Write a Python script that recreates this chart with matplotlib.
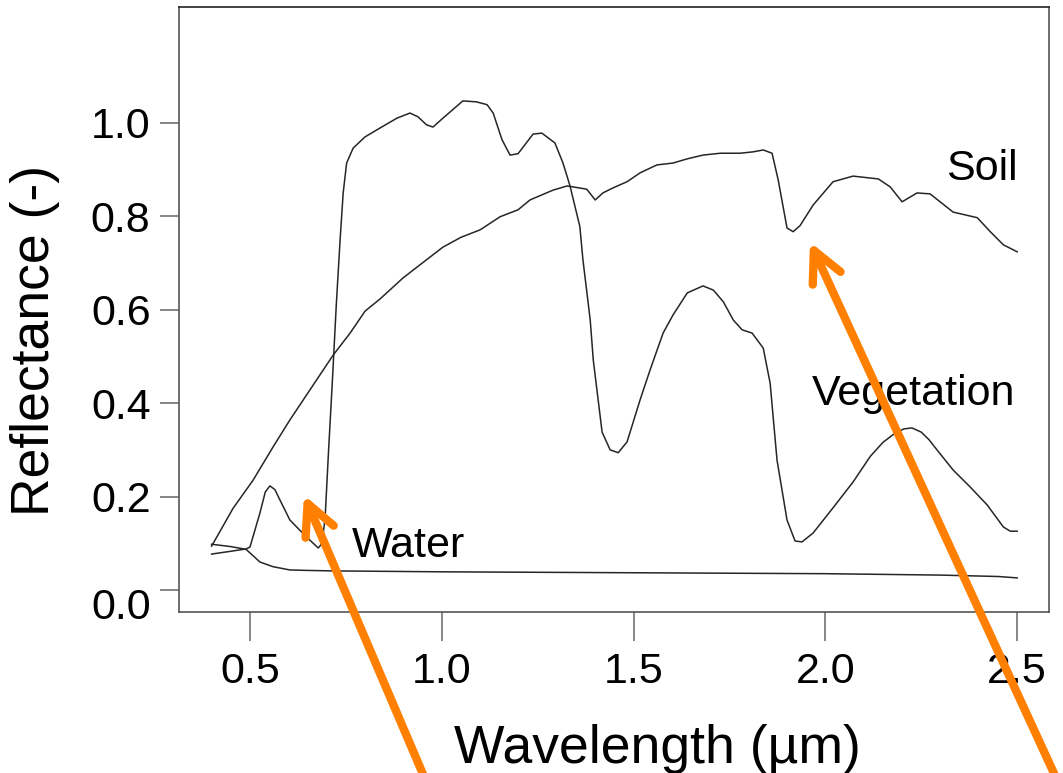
import matplotlib
matplotlib.use("Agg")
import matplotlib.pyplot as plt
import matplotlib.transforms as mtransforms

plt.rcParams['font.family'] = ['Liberation Sans', 'DejaVu Sans']

# spectral reflectance curves (wavelength in um, reflectance 0-1)
soil_wl = [0.40, 0.456, 0.508, 0.56, 0.604, 0.656, 0.717, 0.761, 0.80, 0.839,
           0.899, 0.943, 1.003, 1.05, 1.10, 1.152, 1.199, 1.23, 1.29, 1.327,
           1.378, 1.40, 1.42, 1.447, 1.483, 1.517, 1.561, 1.603, 1.64, 1.681,
           1.726, 1.778, 1.812, 1.838, 1.861, 1.877, 1.90, 1.916, 1.934, 1.968,
           2.02, 2.072, 2.138, 2.169, 2.20, 2.239, 2.273, 2.333, 2.396, 2.43,
           2.464, 2.50]
soil_refl = [0.094, 0.175, 0.235, 0.306, 0.364, 0.428, 0.503, 0.55, 0.597, 0.623,
             0.668, 0.696, 0.734, 0.755, 0.771, 0.799, 0.814, 0.835, 0.856, 0.865,
             0.858, 0.835, 0.85, 0.861, 0.874, 0.893, 0.91, 0.914, 0.923, 0.931,
             0.935, 0.935, 0.938, 0.942, 0.935, 0.878, 0.775, 0.767, 0.78, 0.824,
             0.874, 0.886, 0.88, 0.863, 0.831, 0.85, 0.848, 0.809, 0.797, 0.767,
             0.739, 0.724]

veg_wl = [0.40, 0.45, 0.49, 0.50, 0.526, 0.54, 0.552, 0.565, 0.578, 0.604,
          0.63, 0.656, 0.678, 0.688, 0.696, 0.705, 0.715, 0.725, 0.735, 0.743,
          0.752, 0.769, 0.80, 0.839, 0.883, 0.917, 0.938, 0.96, 0.977, 1.003,
          1.055, 1.09, 1.118, 1.134, 1.157, 1.178, 1.199, 1.238, 1.261, 1.295,
          1.316, 1.334, 1.36, 1.368, 1.387, 1.395, 1.418, 1.439, 1.46, 1.483,
          1.517, 1.543, 1.577, 1.603, 1.64, 1.681, 1.708, 1.734, 1.76, 1.783,
          1.809, 1.838, 1.856, 1.874, 1.90, 1.921, 1.939, 1.968, 2.02, 2.072,
          2.117, 2.15, 2.182, 2.205, 2.226, 2.25, 2.27, 2.291, 2.333, 2.377,
          2.422, 2.464, 2.482, 2.50]
veg_refl = [0.077, 0.083, 0.088, 0.092, 0.165, 0.21, 0.223, 0.215, 0.193, 0.15,
            0.128, 0.107, 0.09, 0.10, 0.156, 0.30, 0.45, 0.61, 0.75, 0.85,
            0.914, 0.946, 0.97, 0.989, 1.01, 1.021, 1.013, 0.996, 0.991, 1.01,
            1.047, 1.045, 1.039, 1.021, 0.964, 0.931, 0.934, 0.976, 0.978, 0.957,
            0.914, 0.866, 0.778, 0.707, 0.578, 0.492, 0.338, 0.30, 0.294, 0.317,
            0.407, 0.471, 0.55, 0.589, 0.636, 0.651, 0.642, 0.617, 0.578, 0.557,
            0.55, 0.518, 0.443, 0.278, 0.15, 0.105, 0.103, 0.122, 0.176, 0.231,
            0.286, 0.316, 0.336, 0.345, 0.347, 0.338, 0.322, 0.30, 0.257, 0.221,
            0.182, 0.135, 0.126, 0.126]

water_wl = [0.40, 0.45, 0.49, 0.526, 0.56, 0.604, 0.65, 0.716, 1.0, 1.5,
            2.0, 2.3, 2.45, 2.50]
water_refl = [0.098, 0.093, 0.087, 0.06, 0.05, 0.043, 0.042, 0.041, 0.039, 0.037,
              0.035, 0.032, 0.029, 0.026]

x_ticks = [0.5, 1.0, 1.5, 2.0, 2.5]
y_ticks = [0.0, 0.2, 0.4, 0.6, 0.8, 1.0]

W, H = 1063, 773
fig = plt.figure(figsize=(W / 100, H / 100), dpi=100)
ax = fig.add_axes([179 / W, 1 - 612 / H, (1049 - 179) / W, (612 - 7) / H])

line_kw = dict(color='#262626', lw=1.1, solid_joinstyle='round')
ax.plot(soil_wl, soil_refl, **line_kw)
ax.plot(veg_wl, veg_refl, **line_kw)
ax.plot(water_wl, water_refl, **line_kw)

ax.set_xlim(0.315, 2.583)
ax.set_ylim(-0.047, 1.248)

for side in ['top', 'right', 'left', 'bottom']:
    ax.spines[side].set_color('#555555')
    ax.spines[side].set_linewidth(1.2)
ax.spines['top'].set_color('#222222')

ax.set_xticks(x_ticks)
ax.set_xticklabels([f'{t:.1f}' for t in x_ticks])
ax.set_yticks(y_ticks)
ax.set_yticklabels([f'{t:.1f}' for t in y_ticks])
ax.tick_params(axis='both', labelsize=31, color='#666666', width=1.1,
               direction='out')
ax.tick_params(axis='x', length=21, pad=8)
ax.tick_params(axis='y', length=13.5, pad=7)

# the 0.0 label sits a little below its tick
shift = mtransforms.ScaledTranslation(0, -13 / 100, fig.dpi_scale_trans)
ax.get_yticklabels()[0].set_transform(ax.get_yticklabels()[0].get_transform() + shift)

ax.text(2.409, 0.878, 'Soil', fontsize=31, ha='center', va='baseline')
ax.text(2.231, 0.396, 'Vegetation', fontsize=31, ha='center', va='baseline')
ax.text(0.913, 0.071, 'Water', fontsize=31, ha='center', va='baseline')

fig.text(35 / W, 1 - 340 / H, 'Reflectance (-)', fontsize=38.5, rotation=90,
         ha='center', va='center')
fig.text(657 / W, 1 - 763 / H, 'Wavelength (µm)', fontsize=38.5,
         ha='center', va='baseline')

# orange pointer arrows, in figure pixels
orange = '#ff7f00'
arrows = [((304, H - 495), (431, -20)), ((810, H - 242), (1063, -20))]
for tip, tail in arrows:
    ax.annotate('', xy=tip, xycoords='figure pixels', xytext=tail,
                textcoords='figure pixels', annotation_clip=False,
                arrowprops=dict(arrowstyle='->,head_length=2.2,head_width=1.1',
                                lw=6, color=orange, shrinkA=0, shrinkB=0,
                                mutation_scale=10, capstyle='round',
                                joinstyle='round'))

fig.savefig('out.png', dpi=100)
